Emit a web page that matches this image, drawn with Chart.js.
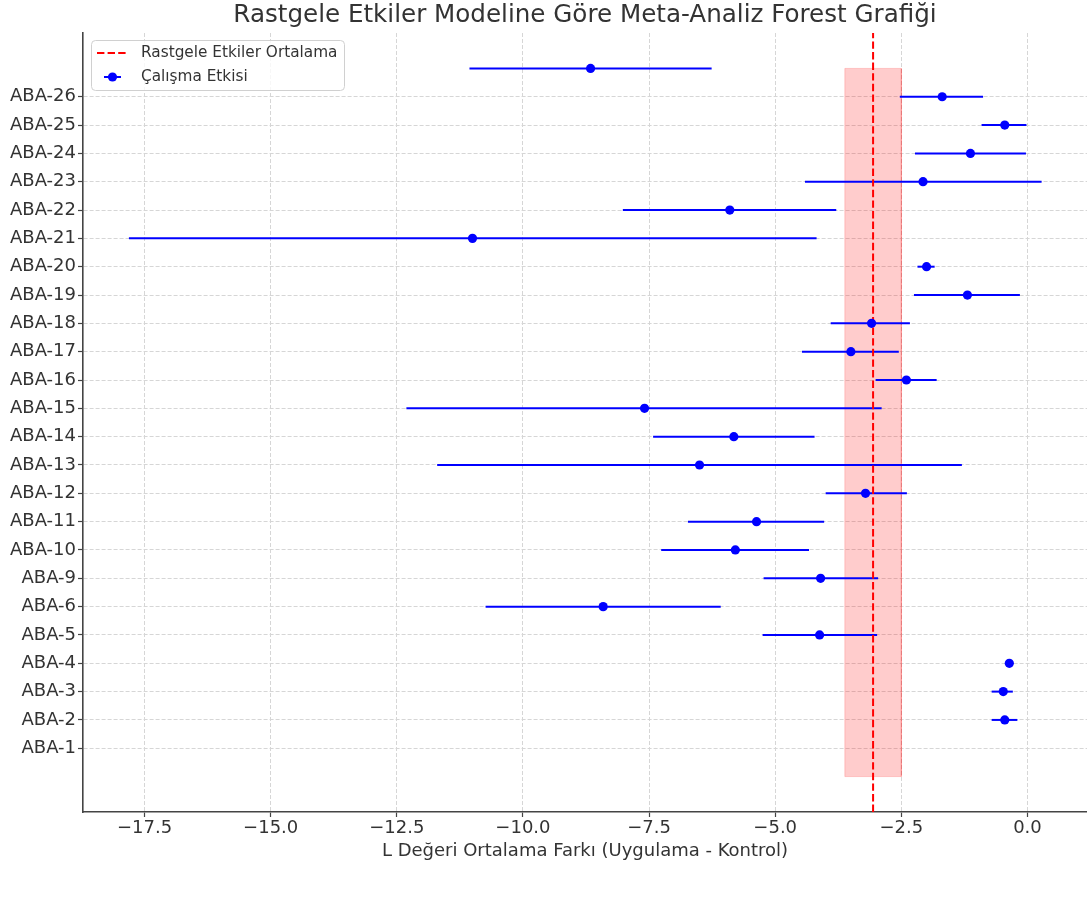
<!DOCTYPE html>
<html>
<head>
<meta charset="utf-8">
<script src="https://cdn.jsdelivr.net/npm/chart.js@4.4.1/dist/chart.umd.min.js"></script>
<style>
  html, body { margin: 0; padding: 0; background: #fff; }
</style>
</head>
<body>
<canvas id="forest" width="1087" height="898"></canvas>
<script>
// y tick labels, bottom (row 0) to top (row 23); row 24 has no label
var studyLabels = ['ABA-1', 'ABA-2', 'ABA-3', 'ABA-4', 'ABA-5', 'ABA-6', 'ABA-9', 'ABA-10',
    'ABA-11', 'ABA-12', 'ABA-13', 'ABA-14', 'ABA-15', 'ABA-16', 'ABA-17', 'ABA-18',
    'ABA-19', 'ABA-20', 'ABA-21', 'ABA-22', 'ABA-23', 'ABA-24', 'ABA-25', 'ABA-26'];

// study effects, drawn on rows 1..24 (row 0 stays empty)
var effects = [-0.45, -0.48, -0.36, -4.12, -8.41, -4.10, -5.79, -5.37, -3.21, -6.50,
    -5.82, -7.59, -2.40, -3.50, -3.09, -1.19, -2.00, -11.00, -5.90, -2.07,
    -1.13, -0.45, -1.69, -8.66];
var ciLow = [-0.71, -0.71, -0.36, -5.25, -10.74, -5.23, -7.26, -6.73, -4.00, -11.70,
    -7.42, -12.31, -3.01, -4.47, -3.90, -2.25, -2.18, -17.81, -8.02, -4.41,
    -2.23, -0.91, -2.53, -11.06];
var ciHigh = [-0.20, -0.29, -0.36, -2.98, -6.08, -2.96, -4.33, -4.03, -2.39, -1.30,
    -4.22, -2.89, -1.80, -2.55, -2.33, -0.15, -1.84, -4.18, -3.79, 0.28,
    -0.03, -0.02, -0.88, -6.26];

// random effects pooled estimate and its interval
var pooledMean = -3.06;
var pooledLow = -3.62;
var pooledHigh = -2.50;
var bandRows = [-1, 24];

var xTicks = [-17.5, -15, -12.5, -10, -7.5, -5, -2.5, 0];
var xRange = [-18.72, 1.18];
var yRange = [-2.25, 25.25];

var FONT = 'DejaVu Sans';
var TEXT = '#333333';

Chart.defaults.font.family = FONT;
Chart.defaults.color = TEXT;

var datasets = [];

// points
datasets.push({
    label: 'Çalışma Etkisi',
    data: effects.map(function(v, i) { return {x: v, y: i + 1}; }),
    pointRadius: 4.6,
    pointBackgroundColor: '#0000ff',
    pointBorderWidth: 0,
    showLine: false,
    order: 0
});

// pooled mean line
datasets.push({
    label: 'Rastgele Etkiler Ortalama',
    data: [{x: pooledMean, y: yRange[0]}, {x: pooledMean, y: yRange[1]}],
    borderColor: '#ff0000',
    borderWidth: 2,
    borderDash: [7.4, 3.2],
    pointRadius: 0,
    showLine: true,
    order: 1
});

// whiskers
effects.forEach(function(v, i) {
    datasets.push({
        label: 'ci' + i,
        data: [{x: ciLow[i], y: i + 1}, {x: ciHigh[i], y: i + 1}],
        borderColor: '#0000ff',
        borderWidth: 2,
        pointRadius: 0,
        showLine: true,
        order: 2
    });
});

// pooled interval band
datasets.push({
    label: 'band',
    data: [
        {x: pooledLow, y: bandRows[0]}, {x: pooledLow, y: bandRows[1]},
        {x: pooledHigh, y: bandRows[1]}, {x: pooledHigh, y: bandRows[0]},
        {x: pooledLow, y: bandRows[0]}
    ],
    fill: 'shape',
    backgroundColor: 'rgba(255,0,0,0.2)',
    borderColor: 'rgba(255,0,0,0.18)',
    borderWidth: 1,
    pointRadius: 0,
    showLine: true,
    order: 3
});

function fmtX(v) {
    return (v < 0 ? '\u2212' : '') + Math.abs(v).toFixed(1);
}

var overlay = {
    id: 'overlay',
    afterDraw: function(chart) {
        var ctx = chart.ctx;
        var area = chart.chartArea;
        ctx.save();

        // title centred over the axes
        ctx.fillStyle = TEXT;
        ctx.font = '24.6px "' + FONT + '"';
        ctx.textAlign = 'center';
        ctx.textBaseline = 'middle';
        ctx.fillText('Rastgele Etkiler Modeline Göre Meta-Analiz Forest Grafiği',
            (area.left + area.right) / 2, 16);

        // legend box
        var bx = 91.5, by = 40.5, bw = 253, bh = 50, r = 4;
        ctx.beginPath();
        ctx.moveTo(bx + r, by);
        ctx.arcTo(bx + bw, by, bx + bw, by + bh, r);
        ctx.arcTo(bx + bw, by + bh, bx, by + bh, r);
        ctx.arcTo(bx, by + bh, bx, by, r);
        ctx.arcTo(bx, by, bx + bw, by, r);
        ctx.closePath();
        ctx.fillStyle = 'rgba(255,255,255,0.8)';
        ctx.fill();
        ctx.strokeStyle = '#d0d0d0';
        ctx.lineWidth = 1;
        ctx.stroke();

        ctx.lineWidth = 2;
        ctx.strokeStyle = '#ff0000';
        ctx.setLineDash([7.4, 3.2]);
        ctx.beginPath();
        ctx.moveTo(97, 53);
        ctx.lineTo(128, 53);
        ctx.stroke();
        ctx.setLineDash([]);

        ctx.strokeStyle = '#0000ff';
        ctx.beginPath();
        ctx.moveTo(104, 77);
        ctx.lineTo(121, 77);
        ctx.stroke();
        ctx.fillStyle = '#0000ff';
        ctx.beginPath();
        ctx.arc(112.5, 77, 4.6, 0, Math.PI * 2);
        ctx.fill();

        ctx.fillStyle = TEXT;
        ctx.font = '15.3px "' + FONT + '"';
        ctx.textAlign = 'left';
        ctx.fillText('Rastgele Etkiler Ortalama', 141, 53);
        ctx.fillText('Çalışma Etkisi', 141, 77);

        ctx.restore();
    }
};

new Chart(document.getElementById('forest'), {
    type: 'scatter',
    data: {datasets: datasets},
    plugins: [overlay],
    options: {
        responsive: false,
        animation: false,
        devicePixelRatio: 1,
        layout: {autoPadding: false, padding: {top: 33, right: 0, bottom: 0, left: 0}},
        plugins: {
            legend: {display: false},
            title: {display: false},
            tooltip: {enabled: false}
        },
        scales: {
            x: {
                type: 'linear',
                min: xRange[0],
                max: xRange[1],
                afterBuildTicks: function(s) {
                    s.ticks = xTicks.map(function(v) { return {value: v}; });
                },
                afterFit: function(s) { s.height = 86; },
                ticks: {
                    callback: function(v) { return fmtX(v); },
                    font: {size: 18},
                    color: TEXT,
                    padding: 1,
                    maxRotation: 0,
                    autoSkip: false
                },
                grid: {
                    color: '#d6d6d6',
                    lineWidth: 1,
                    tickLength: 5,
                    tickColor: '#444444',
                    tickWidth: 1.2
                },
                border: {color: '#444444', width: 1.6, dash: [4, 2]},
                title: {
                    display: true,
                    text: 'L Değeri Ortalama Farkı (Uygulama - Kontrol)',
                    font: {size: 18},
                    color: TEXT,
                    padding: {top: 0, bottom: 36}
                }
            },
            y: {
                type: 'linear',
                min: yRange[0],
                max: yRange[1],
                afterBuildTicks: function(s) {
                    s.ticks = studyLabels.map(function(l, i) { return {value: i}; });
                },
                afterFit: function(s) { s.width = 83; },
                ticks: {
                    callback: function(v) { return studyLabels[v]; },
                    font: {size: 18},
                    color: TEXT,
                    padding: 2,
                    autoSkip: false
                },
                grid: {
                    color: '#d6d6d6',
                    lineWidth: 1,
                    tickLength: 5,
                    tickColor: '#444444',
                    tickWidth: 1.2
                },
                border: {color: '#444444', width: 1.6, dash: [4, 2]}
            }
        }
    }
});
</script>
</body>
</html>
